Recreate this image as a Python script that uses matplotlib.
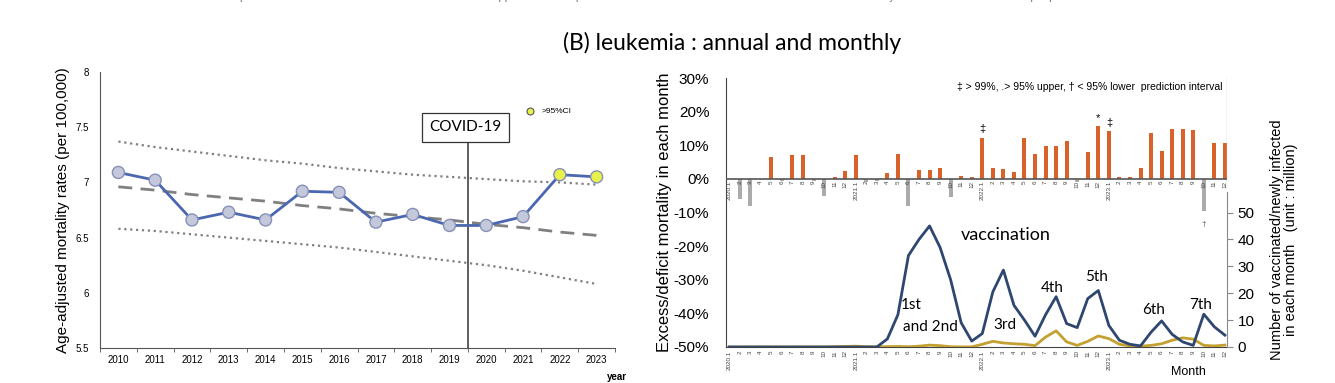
import matplotlib.pyplot as plt
import numpy as np

plt.rcParams['font.family'] = ['Liberation Sans', 'DejaVu Sans']

# ---- annual data (left panel)
years = list(range(2010, 2024))
amr = [7.09, 7.02, 6.66, 6.73, 6.66, 6.92, 6.91, 6.64, 6.71, 6.61, 6.61, 6.69, 7.07, 7.05]
predicted = [6.96, 6.93, 6.89, 6.86, 6.83, 6.79, 6.76, 6.72, 6.69, 6.66, 6.62, 6.59, 6.55, 6.52]
upper95 = [7.37, 7.32, 7.28, 7.24, 7.20, 7.17, 7.13, 7.10, 7.07, 7.05, 7.03, 7.01, 7.00, 6.98]
lower95 = [6.58, 6.56, 6.53, 6.50, 6.47, 6.44, 6.41, 6.37, 6.33, 6.29, 6.25, 6.20, 6.14, 6.08]
over_ci = [False] * 12 + [True, True]

# ---- monthly data (right panel), 2020.1 .. 2023.12
month_labels = []
for y in range(2020, 2024):
    for m in range(1, 13):
        month_labels.append(f"{y}.1" if m == 1 else str(m))

excess = [0, -6, -8, 0, 6.5, -0.5, 7, 7, -0.5, -5, 0.5, 2.3,
          7, -1, -0.5, 1.7, 7.5, -8, 2.5, 2.5, 3.3, -5.5, 1.0, 0.7,
          12.3, 3.1, 2.9, 1.9, 12.1, 7.3, 9.9, 9.9, 11.2, -1, 7.9, 15.7,
          14.1, 0.5, 0.7, 3.3, 13.7, 8.3, 14.7, 14.7, 14.5, -9.5, 10.7, 10.7]

vaccinated = [0, 0, 0, 0, 0, 0, 0, 0, 0, 0, 0, 0,
              0, 0, 0, 3, 12, 34, 40, 45, 37, 25, 9, 2.2,
              5, 20.5, 28.6, 15.5, 10, 4, 12, 18.7, 8.7, 7.2, 18, 21,
              8, 2.5, 1, 0.4, 5.5, 9.7, 4.7, 1.9, 0.6, 12.2, 7.5, 4.4]

infected = [0, 0, 0, 0, 0, 0, 0, 0, 0, 0, 0.1, 0.2,
            0.3, 0.1, 0.05, 0.15, 0.2, 0.1, 0.3, 0.7, 0.5, 0.1, 0.05, 0.05,
            1, 2.1, 1.5, 1.2, 1, 0.5, 3.7, 6, 1.9, 0.6, 2.1, 4.1,
            3.1, 1, 0.4, 0.3, 0.6, 1.2, 2.5, 3.4, 2.9, 0.6, 0.4, 0.7]

marks = {24: "‡", 35: "*", 36: "‡", 45: "†"}
dose_labels = ["1st", "and 2nd", "3rd", "4th", "5th", "6th", "7th"]
dose_pos = [(17.3, 15.5), (19.1, 7.5), (26.1, 8), (30.6, 22), (34.8, 26), (40.2, 13.7), (44.7, 15.5)]

fig = plt.figure(figsize=(13.35, 3.83), dpi=100)

# cut-off legend strip at the very top
strip = [(0.11, "AMR"), (0.18, "predicted values"), (0.35, "95% upper and lower prediction interval"),
         (0.585, "Excess/deficit mortality rate"), (0.73, "Number of people vaccinated in each month"),
         (0.95, "Number of newly infected persons in each month")]
for xs, t in strip:
    fig.text(xs, 1.008, t, fontsize=8, color='#777777', va='center')

fig.text(0.548, 0.888, "(B) leukemia : annual and monthly", ha='center', va='center',
         fontsize=16.5, family=['Lato', 'DejaVu Sans'])

# ---------------- left panel
ax = fig.add_axes([0.0749, 0.0914, 0.3858, 0.7206])
ax.plot(years, upper95, ':', color='#808080', lw=1.6)
ax.plot(years, lower95, ':', color='#808080', lw=1.6)
ax.plot(years, predicted, '--', color='#808080', lw=2, dashes=(5, 3))
ax.plot(years, amr, '-', color='#4A67B0', lw=2, zorder=3)
cols = ['#E8F04A' if o else '#C3C8DA' for o in over_ci]
ax.scatter(years, amr, s=75, c=cols, edgecolors='#8890B8', linewidths=1, zorder=4)

ax.plot([2019.5, 2019.5], [5.5, 7.39], color='#333333', lw=1.1)
ax.text(2019.44, 7.50, "COVID-19", ha='center', va='center', fontsize=11,
        family=['Lato', 'DejaVu Sans'],
        bbox=dict(boxstyle='square,pad=0.5', fc='white', ec='#333333', lw=0.9))
ax.scatter([2021.2], [7.65], s=25, c='#E8F04A', edgecolors='#555555', linewidths=0.8)
ax.text(2021.5, 7.645, ">95%CI", fontsize=6, va='center')

ax.set_xlim(2009.5, 2023.5)
ax.set_ylim(5.5, 8)
ax.set_xticks(years)
ax.set_xticks(np.arange(2009.5, 2024, 1), minor=True)
ax.tick_params(axis='x', which='major', length=0, labelsize=7, pad=5)
ax.tick_params(axis='x', which='minor', length=3, color='#555555')
ax.set_yticks([5.5, 6, 6.5, 7, 7.5, 8])
ax.set_yticklabels(['5.5', '6', '6.5', '7', '7.5', '8'])
ax.tick_params(axis='y', length=0, labelsize=7, pad=8)
for s in ['top', 'right']:
    ax.spines[s].set_visible(False)
ax.spines['left'].set_color('#555555')
ax.spines['bottom'].set_color('#555555')
ax.set_ylabel("Age-adjusted mortality rates (per 100,000)", fontsize=11, labelpad=4)
ax.text(2023.55, 5.24, "year", fontsize=7, fontweight='bold', ha='center', va='center')

# ---------------- right panel
bx = fig.add_axes([0.5438, 0.094, 0.3753, 0.7023])
idx = np.arange(len(excess))
ex = np.array(excess)
bar_cols = ['#D9622B' if v > 0 else '#ABABAB' for v in ex]
bx.bar(idx, ex, width=0.38, color=bar_cols, zorder=2)
bx.axhline(0, color='#555555', lw=1.2, zorder=3)
for i, lab in enumerate(month_labels):
    bx.text(i, -0.6, lab, rotation=90, fontsize=4.5, ha='center', va='top', color='#444444', zorder=4)
    bx.text(i, -51, lab, rotation=90, fontsize=4.5, ha='center', va='top', color='#444444')
for i, m in marks.items():
    if excess[i] > 0:
        bx.text(i, excess[i] + 1.0, m, ha='center', va='bottom', fontsize=8)
    else:
        bx.text(i, excess[i] - 3.0, m, ha='center', va='top', fontsize=6, color='#555555')
bx.text(34.2, 27.3, "‡ > 99%, .> 95% upper, † < 95% lower  prediction interval",
        ha='center', va='center', fontsize=7.5)
bx.plot([47.2, 47.2], [-2.5, 30], color='#C8C8C8', lw=1)

bx.set_xlim(-0.3, 47.2)
bx.set_ylim(-50, 30)
bx.set_xticks([])
bx.set_yticks(np.arange(-50, 31, 10))
bx.set_yticklabels([f"{v}%" for v in range(-50, 31, 10)])
bx.tick_params(axis='y', length=0, labelsize=11, pad=12)
for s in ['top', 'right']:
    bx.spines[s].set_visible(False)
bx.spines['left'].set_color('#444444')
bx.spines['bottom'].set_color('#444444')
bx.set_ylabel("Excess/deficit mortality in each month", fontsize=12, labelpad=1)
bx.text(43.5, -57.5, "Month", fontsize=9, ha='center', va='center')

tx = bx.twinx()
tx.plot(idx, infected, color='#C4A030', lw=2)
tx.plot(idx, vaccinated, color='#2E4670', lw=2)
for lab, (x, y) in zip(dose_labels, dose_pos):
    tx.text(x, y, lab, fontsize=11, ha='center', va='center', family=['Lato', 'DejaVu Sans'])
tx.text(26.2, 41.7, "vaccination", fontsize=13, ha='center', va='center', family=['Lato', 'DejaVu Sans'])
tx.set_ylim(0, 100)
tx.set_yticks([0, 10, 20, 30, 40, 50])
tx.tick_params(axis='y', length=4, labelsize=11, color='#888888')
for s in ['top', 'left', 'bottom']:
    tx.spines[s].set_visible(False)
tx.spines['right'].set_bounds(0, 57.5)
tx.spines['right'].set_color('#888888')
tx.set_ylabel("Number of vaccinated/newly infected\nin each month   (unit : million)",
              fontsize=10.5, linespacing=1.0)
tx.yaxis.set_label_coords(1.085, 0.40)

fig.savefig("out.png", dpi=100)
